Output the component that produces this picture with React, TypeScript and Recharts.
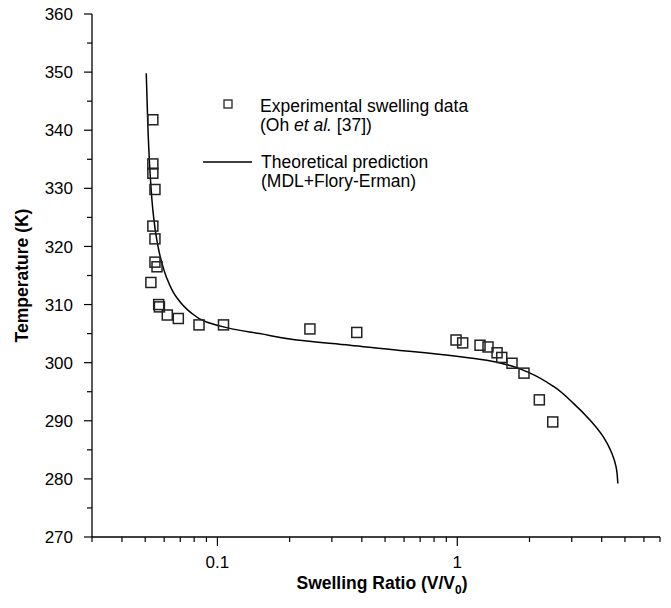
import React from 'react';
import { ScatterChart, Scatter, XAxis, YAxis, Legend } from 'recharts';

// experimental swelling data (Oh et al.)
const expRatio = [
  0.0538, 0.0538, 0.0538, 0.0549, 0.0538, 0.0549, 0.0549, 0.056, 0.0528, 0.0569, 0.0573,
  0.0618, 0.0687, 0.0838, 0.106, 0.243, 0.381,
  0.988, 1.053, 1.244, 1.343, 1.465, 1.532, 1.691, 1.897, 2.198, 2.5,
];
const expTemp = [
  341.8, 334.2, 332.6, 329.8, 323.5, 321.3, 317.3, 316.5, 313.8, 310.0, 309.6,
  308.2, 307.6, 306.5, 306.5, 305.8, 305.2,
  303.9, 303.4, 303.0, 302.7, 301.7, 300.9, 299.9, 298.2, 293.6, 289.8,
];

// theoretical prediction (MDL + Flory-Erman)
const fitRatio = [
  0.0505, 0.0513, 0.0525, 0.0538, 0.0556, 0.0578, 0.0612, 0.0674, 0.0766, 0.09, 0.1125,
  0.15, 0.214, 0.357, 0.577, 0.698, 0.994, 1.327, 1.66, 2.01, 2.52, 3.05, 3.58, 4.07,
  4.41, 4.59, 4.67,
];
const fitTemp = [
  349.8, 340.6, 332.0, 326.3, 321.7, 318.2, 314.8, 311.3, 308.8, 307.0, 305.9,
  305.0, 303.9, 303.0, 302.1, 301.8, 301.1, 300.4, 299.5, 298.2, 295.9, 293.0, 290.1, 287.2,
  284.4, 282.1, 279.2,
];

const xTicks = [
  0.03, 0.04, 0.05, 0.06, 0.07, 0.08, 0.09,
  0.1, 0.2, 0.3, 0.4, 0.5, 0.6, 0.7, 0.8, 0.9,
  1, 2, 3, 4, 5, 6, 7,
];
const xLabels = [0.1, 1];
const yTicks = [270, 275, 280, 285, 290, 295, 300, 305, 310, 315, 320, 325, 330, 335, 340, 345, 350, 355, 360];

const expData = expRatio.map((x, i) => ({ x, t: expTemp[i] }));
const fitData = fitRatio.map((x, i) => ({ x, t: fitTemp[i] }));

const FONT = '"Liberation Sans", Arial, sans-serif';

const XTick = (props: any) => {
  const { x, y, payload } = props;
  const major = xLabels.includes(payload.value);
  return (
    <g>
      <line x1={x} x2={x} y1={y} y2={y + (major ? 9 : 5)} stroke="#000" strokeWidth={1.2} />
      {major && (
        <text x={x} y={y + 31} textAnchor="middle" fontSize={17} fontFamily={FONT} fill="#000">
          {payload.value}
        </text>
      )}
    </g>
  );
};

const YTick = (props: any) => {
  const { x, y, payload } = props;
  const major = payload.value % 10 === 0;
  return (
    <g>
      <line x1={x} x2={x - (major ? 8 : 5)} y1={y} y2={y} stroke="#000" strokeWidth={1.2} />
      {major && (
        <text x={x - 19} y={y} dy="0.36em" textAnchor="end" fontSize={17} fontFamily={FONT} fill="#000">
          {payload.value}
        </text>
      )}
    </g>
  );
};

const Square = (props: any) => {
  const { cx, cy } = props;
  if (cx == null || cy == null) return <g />;
  return <rect x={cx - 5} y={cy - 5} width={10} height={10} fill="none" stroke="#222" strokeWidth={1.5} />;
};

const LegendBox = () => (
  <svg width={260} height={110} style={{ overflow: 'visible' }}>
    <g transform="translate(-195,-88)" fontFamily={FONT} fontSize={17.5} fill="#000">
      <rect x={224} y={100} width={8} height={8} fill="none" stroke="#222" strokeWidth={1.3} />
      <text x={260} y={112}>Experimental swelling data</text>
      <text x={260} y={131}>
        (Oh <tspan fontStyle="italic">et al.</tspan> [37])
      </text>
      <line x1={203} x2={252} y1={162} y2={162} stroke="#000" strokeWidth={1.3} />
      <text x={261} y={168}>Theoretical prediction</text>
      <text x={261} y={187}>(MDL+Flory-Erman)</text>
    </g>
  </svg>
);

export default function App() {
  return (
    <div style={{ position: 'absolute', left: 0, top: 0 }}>
      <ScatterChart width={671} height={608} margin={{ top: 14, right: 11, bottom: 0, left: 0 }}>
        <XAxis
          dataKey="x"
          type="number"
          scale="log"
          domain={[0.03, 7]}
          ticks={xTicks}
          interval={0}
          allowDataOverflow
          height={71}
          tickSize={0}
          tickMargin={0}
          tick={<XTick />}
          axisLine={{ stroke: '#000', strokeWidth: 1.3 }}
          label={(p: any) => {
            const vb = p.viewBox;
            const cx = vb.x + vb.width / 2 + 6;
            return (
              <text x={cx} y={589} textAnchor="middle" fontSize={17.5} fontWeight="bold" fontFamily={FONT} fill="#000">
                <tspan>Swelling Ratio (V/V</tspan>
                <tspan fontSize={12} dy={5}>0</tspan>
                <tspan dy={-5}>)</tspan>
              </text>
            );
          }}
        />
        <YAxis
          dataKey="t"
          type="number"
          domain={[270, 360]}
          ticks={yTicks}
          interval={0}
          allowDataOverflow
          width={92}
          tickSize={0}
          tickMargin={0}
          tick={<YTick />}
          axisLine={{ stroke: '#000', strokeWidth: 1.3 }}
          label={(p: any) => {
            const vb = p.viewBox;
            const cy = vb.y + vb.height / 2;
            return (
              <text
                x={22}
                y={cy}
                transform={`rotate(-90, 22, ${cy})`}
                textAnchor="middle"
                dy="0.36em"
                fontSize={17.5}
                fontWeight="bold"
                fontFamily={FONT}
                fill="#000"
              >
                Temperature (K)
              </text>
            );
          }}
        />
        <Legend
          layout="vertical"
          align="center"
          verticalAlign="middle"
          content={() => <LegendBox />}
          wrapperStyle={{ left: 195, top: 88, width: 260, height: 110 }}
        />
        <Scatter
          data={fitData}
          line={{ stroke: '#000', strokeWidth: 1.5 }}
          lineJointType="monotoneY"
          shape={() => <g />}
          isAnimationActive={false}
          legendType="none"
        />
        <Scatter data={expData} shape={<Square />} isAnimationActive={false} legendType="none" />
      </ScatterChart>
    </div>
  );
}
